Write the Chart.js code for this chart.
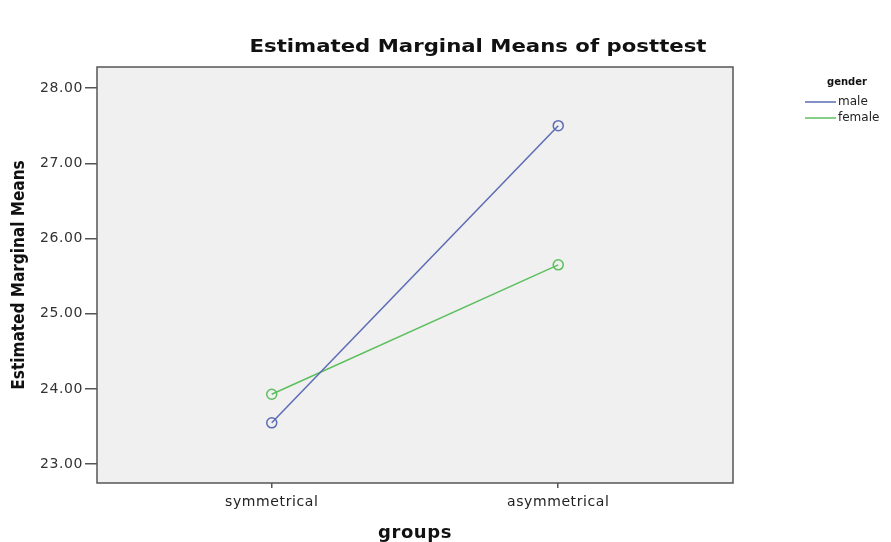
<!DOCTYPE html>
<html>
<head>
<meta charset="utf-8">
<script src="https://cdn.jsdelivr.net/npm/chart.js@4.4.1/dist/chart.umd.min.js"></script>
<style>
  html, body { margin: 0; padding: 0; background: #fff; }
  #wrap { width: 891px; height: 542px; position: relative; }
</style>
</head>
<body>
<div id="wrap"><canvas id="emmChart"></canvas></div>
<script>
// Data
const groups = ['symmetrical', 'asymmetrical'];
const genders = ['male', 'female'];
const maleMeans = [23.55, 27.50];
const femaleMeans = [23.93, 25.65];
const yTicks = [23, 24, 25, 26, 27, 28];

const lineColors = ['#5b6cb4', '#5cbf5e'];

// draw text stretched along its own direction
function stretchedText(ctx, text, x, y, sx, angle) {
    ctx.save();
    ctx.translate(x, y);
    ctx.rotate(angle);
    ctx.scale(sx, 1);
    ctx.fillText(text, 0, 0);
    ctx.restore();
}

// Gray plot box, border, titles and legend
const plotBox = {
    id: 'plotBox',
    beforeDraw(chart) {
        const { ctx, chartArea: a } = chart;
        ctx.save();
        ctx.fillStyle = '#f0f0f0';
        ctx.fillRect(a.left, a.top, a.right - a.left, a.bottom - a.top);
        ctx.restore();
        // slightly wide text for the axis labels
        ctx.letterSpacing = '0.6px';
    },
    afterDraw(chart) {
        const { ctx, chartArea: a } = chart;
        ctx.save();
        ctx.letterSpacing = '0px';
        ctx.strokeStyle = '#555';
        ctx.lineWidth = 1.5;
        ctx.strokeRect(a.left, a.top, a.right - a.left, a.bottom - a.top);

        ctx.fillStyle = '#111';
        ctx.textAlign = 'center';
        ctx.textBaseline = 'middle';

        // title
        ctx.font = 'bold 18px "DejaVu Sans", sans-serif';
        stretchedText(ctx, 'Estimated Marginal Means of posttest', 478, 47, 1.18, 0);

        // y axis title
        ctx.font = 'bold 17px "DejaVu Sans", sans-serif';
        stretchedText(ctx, 'Estimated Marginal Means', 20, (a.top + a.bottom) / 2, 0.9, -Math.PI / 2);

        // legend
        ctx.font = 'bold 10px "DejaVu Sans", sans-serif';
        ctx.fillText('gender', 847, 82);
        ctx.font = '12px "DejaVu Sans", sans-serif';
        ctx.textAlign = 'left';
        chart.data.datasets.forEach((ds, i) => {
            const y = 102 + i * 16;
            ctx.strokeStyle = ds.borderColor;
            ctx.lineWidth = 1.5;
            ctx.beginPath();
            ctx.moveTo(805, y);
            ctx.lineTo(836, y);
            ctx.stroke();
            ctx.fillStyle = '#222';
            ctx.fillText(ds.label, 838, y);
        });
        ctx.restore();
    }
};

const ctx = document.getElementById('emmChart').getContext('2d');
new Chart(ctx, {
    type: 'line',
    data: {
        datasets: [maleMeans, femaleMeans].map((vals, i) => ({
            label: genders[i],
            data: vals.map((v, j) => ({ x: j, y: v })),
            borderColor: lineColors[i],
            backgroundColor: 'rgba(0,0,0,0)',
            borderWidth: 1.5,
            pointRadius: 5,
            pointBorderWidth: 1.5,
            pointBackgroundColor: 'rgba(0,0,0,0)',
            pointBorderColor: lineColors[i],
            tension: 0
        }))
    },
    options: {
        responsive: true,
        maintainAspectRatio: false,
        animation: false,
        layout: { padding: { left: 0, right: 158, top: 67, bottom: 0 } },
        plugins: {
            legend: { display: false },
            tooltip: { enabled: false }
        },
        scales: {
            x: {
                type: 'linear',
                min: -0.61,
                max: 1.61,
                afterBuildTicks: s => { s.ticks = groups.map((_, i) => ({ value: i })); },
                afterFit: s => { s.height = 59; },
                grid: { drawOnChartArea: false, drawTicks: true, tickLength: 5, color: '#555', lineWidth: 1.5 },
                border: { display: false },
                ticks: {
                    callback: v => groups[v],
                    color: '#222',
                    font: { family: '"DejaVu Sans", sans-serif', size: 14 },
                    padding: 6,
                    maxRotation: 0
                },
                title: {
                    display: true,
                    text: 'groups',
                    color: '#111',
                    font: { family: '"DejaVu Sans", sans-serif', size: 18, weight: 'bold' },
                    padding: { top: 4, bottom: -2 }
                }
            },
            y: {
                min: 22.75,
                max: 28.28,
                afterBuildTicks: s => { s.ticks = yTicks.map(v => ({ value: v })); },
                afterFit: s => { s.width = 97; },
                grid: { drawOnChartArea: false, drawTicks: true, tickLength: 12, color: '#555', lineWidth: 1.5 },
                border: { display: false },
                ticks: {
                    callback: v => v.toFixed(2),
                    color: '#333',
                    font: { family: '"DejaVu Sans", sans-serif', size: 14 },
                    padding: 2
                },
                title: { display: false }
            }
        }
    },
    plugins: [plotBox]
});
</script>
</body>
</html>
